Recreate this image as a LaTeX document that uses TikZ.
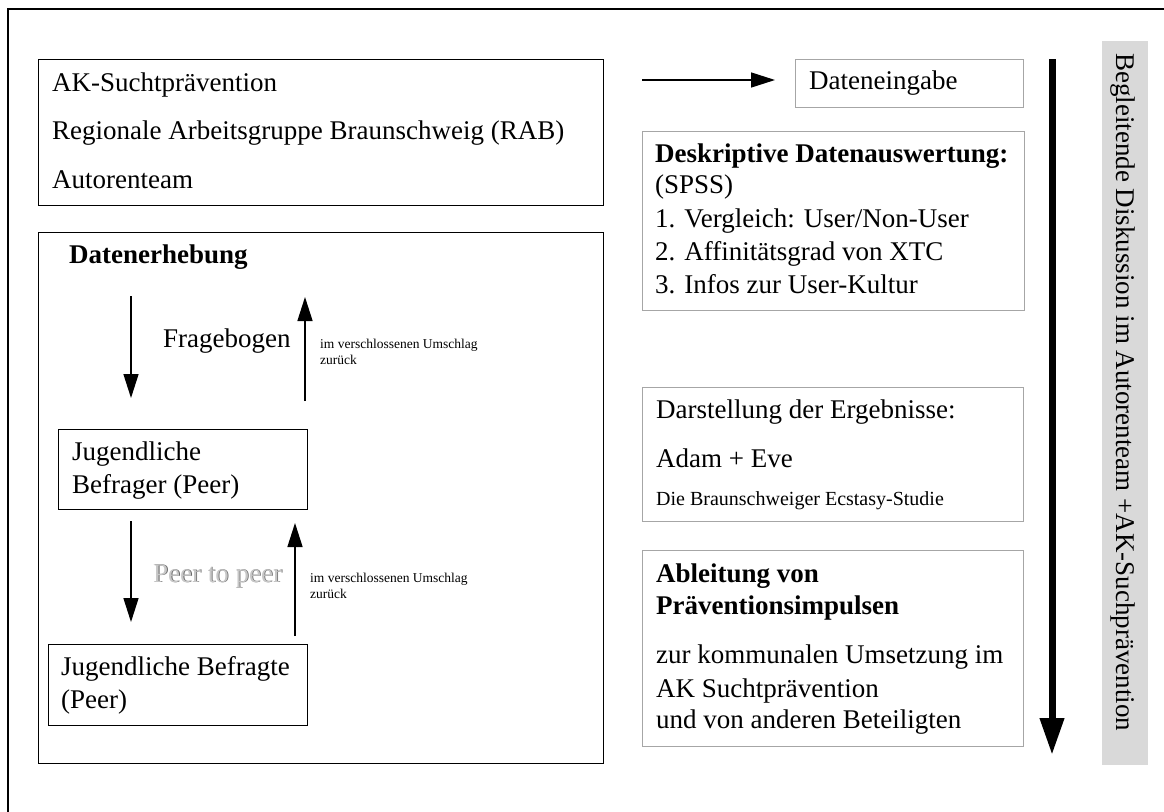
\documentclass[tikz,border=0pt]{standalone}
\usepackage{fontspec}
\setmainfont{Liberation Serif}
\usetikzlibrary{arrows.meta}
\definecolor{boxgray}{HTML}{A6A6A6}
\definecolor{bargray}{HTML}{D9D9D9}
\begin{document}
\begin{tikzpicture}[x=1pt,y=-1pt,
  blackbox/.style={draw=black, line width=1.4pt, inner sep=0pt, anchor=north west},
  graybox/.style={draw=boxgray, line width=1.4pt, inner sep=0pt, anchor=north west},
  txt/.style={anchor=base west, inner sep=0pt, font=\fontsize{27}{32}\selectfont},
  btxt/.style={anchor=base west, inner sep=0pt, font=\fontsize{27}{32}\selectfont\bfseries},
  smalltxt/.style={anchor=base west, inner sep=0pt, font=\fontsize{13.5}{16}\selectfont},
  midtxt/.style={anchor=base west, inner sep=0pt, font=\fontsize{20}{24}\selectfont},
  thinarrow/.style={line width=1.5pt, -{Triangle[length=24pt,width=15pt]}},
  thickarrow/.style={line width=7pt, -{Triangle[length=37pt,width=23pt]}},
  shadowtxt/.style={txt, text=black!60},
  facetxt/.style={txt, text=black!22}]
\useasboundingbox (0,0) rectangle (1164,811);
% outer frame
\coordinate (fbl) at (8,830);
\coordinate (ftl) at (8,9);
\coordinate (ftr) at (1180,9);
\draw[line width=1.4pt] (fbl) -- (ftl) -- (ftr);

% top box
\node[blackbox, minimum width=565pt, minimum height=146pt] (top) at (38,59) {};
\node[txt] (t1) at (52,91) {AK-Suchtprävention};
\node[txt] (t2) at (52,139) {Regionale Arbeitsgruppe Braunschweig (RAB)};
\node[txt] (t3) at (52,188) {Autorenteam};

% Datenerhebung box
\node[blackbox, minimum width=565pt, minimum height=531pt] (erh) at (38,232) {};
\node[btxt] (erhtitle) at (69,263) {Datenerhebung};

\coordinate (d1a) at (131,296);
\coordinate (d1b) at (131,398);
\draw[thinarrow] (d1a) -- (d1b);
\coordinate (u1a) at (305,401);
\coordinate (u1b) at (305,297);
\draw[thinarrow] (u1a) -- (u1b);
\node[txt] (frag) at (163,347) {Fragebogen};
\node[smalltxt] (s1a) at (320,348) {im verschlossenen Umschlag};
\node[smalltxt] (s1b) at (320,364) {zurück};

\node[blackbox, minimum width=249pt, minimum height=80pt] (befrager) at (58,429) {};
\node[txt] (bf1) at (72,460) {Jugendliche};
\node[txt] (bf2) at (72,493) {Befrager (Peer)};

\coordinate (d2a) at (131,521);
\coordinate (d2b) at (131,622);
\draw[thinarrow] (d2a) -- (d2b);
\coordinate (u2a) at (295,636);
\coordinate (u2b) at (295,523);
\draw[thinarrow] (u2a) -- (u2b);
\node[shadowtxt] (p2ps) at (153.8,582.8) {Peer to peer};
\node[facetxt] (p2p) at (153,582) {Peer to peer};
\node[smalltxt] (s2a) at (310,582) {im verschlossenen Umschlag};
\node[smalltxt] (s2b) at (310,598) {zurück};

\node[blackbox, minimum width=259pt, minimum height=81pt] (befragte) at (48,644) {};
\node[txt] (bt1) at (61,675) {Jugendliche Befragte};
\node[txt] (bt2) at (61,708) {(Peer)};

% right column
\node[graybox, minimum width=228pt, minimum height=48pt] (dat) at (795,59) {};
\node[txt] (dattxt) at (809,89) {Dateneingabe};
\coordinate (h1) at (642,80);
\draw[thinarrow, shorten >=20pt] (h1) -- (h1 -| dat.west);

\node[graybox, minimum width=382pt, minimum height=179pt] (desk) at (642,131) {};
\node[btxt] (dk1) at (655,162) {Deskriptive Datenauswertung:};
\node[txt] (dk2) at (655,193) {(SPSS)};
\node[txt] (dk3) at (655,227) {1. Vergleich: User/Non-User};
\node[txt] (dk4) at (655,260) {2. Affinitätsgrad von XTC};
\node[txt] (dk5) at (655,293) {3. Infos zur User-Kultur};

\node[graybox, minimum width=381pt, minimum height=134pt] (darst) at (642,387) {};
\node[txt] (ds1) at (656,418) {Darstellung der Ergebnisse:};
\node[txt] (ds2) at (656,467) {Adam + Eve};
\node[midtxt] (ds3) at (656,505) {Die Braunschweiger Ecstasy-Studie};

\node[graybox, minimum width=381pt, minimum height=196pt] (abl) at (642,550) {};
\node[btxt] (ab1) at (656,582) {Ableitung von};
\node[btxt] (ab2) at (656,614) {Präventionsimpulsen};
\node[txt] (ab3) at (656,663) {zur kommunalen Umsetzung im};
\node[txt] (ab4) at (656,697) {AK Suchtprävention};
\node[txt] (ab5) at (656,728) {und von anderen Beteiligten};

% thick arrow
\coordinate (ta) at (1052,59);
\coordinate (tb) at (1052,755);
\draw[thickarrow] (ta) -- (tb);

% gray bar
\node[fill=bargray, anchor=north west, inner sep=0pt, minimum width=46pt, minimum height=724pt] (bar) at (1102,41) {};
\node[rotate=-90, anchor=west, inner sep=0pt, font=\fontsize{27}{32}\selectfont] (bartxt) at (1123,53) {Begleitende Diskussion im Autorenteam +AK-Suchprävention};
\end{tikzpicture}
\end{document}
